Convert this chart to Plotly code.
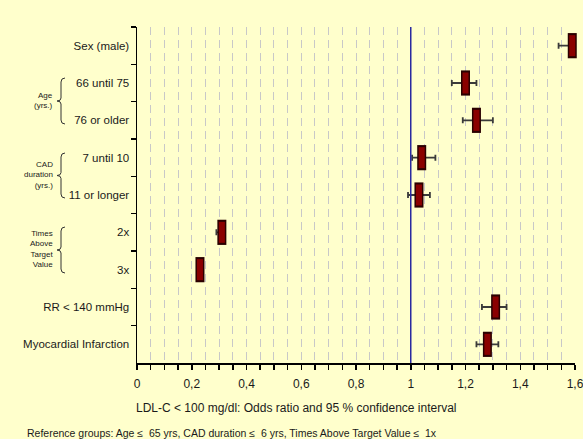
import plotly.graph_objects as go

categories = ["Sex (male)", "66 until 75", "76 or older", "7 until 10", "11 or longer",
              "2x", "3x", "RR < 140 mmHg", "Myocardial Infarction"]
odds_ratio = [1.59, 1.20, 1.24, 1.04, 1.03, 0.31, 0.23, 1.31, 1.28]
ci_low = [1.54, 1.15, 1.19, 1.005, 0.99, 0.29, 0.22, 1.26, 1.24]
ci_high = [1.61, 1.24, 1.30, 1.09, 1.07, 0.32, 0.24, 1.35, 1.32]

x_tickvals = [0, 0.2, 0.4, 0.6, 0.8, 1.0, 1.2, 1.4, 1.6]
x_ticktext = ["0", "0,2", "0,4", "0,6", "0,8", "1", "1,2", "1,4", "1,6"]

groups = [
    {"label": "Age<br>(yrs.)", "top": 78, "bottom": 124},
    {"label": "CAD<br>duration<br>(yrs.)", "top": 153, "bottom": 198},
    {"label": "Times<br>Above<br>Target<br>Value", "top": 227, "bottom": 273},
]

W, H = 583, 439
ML, MR, MT, MB = 137, 8, 27, 76
PW, PH = W - ML - MR, H - MT - MB

def px(x):
    return (x - ML) / PW

def py(y):
    return (H - MB - y) / PH

FONT = "Liberation Sans"
TXT = "#1a1a1a"

fig = go.Figure()

err_plus = [h - v for h, v in zip(ci_high, odds_ratio)]
err_minus = [v - l for v, l in zip(odds_ratio, ci_low)]

fig.add_trace(go.Scatter(
    x=odds_ratio, y=categories, mode="markers",
    marker=dict(symbol="line-ns", size=18, line=dict(width=9, color="#2a0000")),
    error_x=dict(type="data", symmetric=False, array=err_plus, arrayminus=err_minus,
                 color="#3a3a3a", thickness=1.8, width=3),
    cliponaxis=False, hoverinfo="skip", showlegend=False,
))
fig.add_trace(go.Scatter(
    x=odds_ratio, y=categories, mode="markers",
    marker=dict(symbol="line-ns", size=15, line=dict(width=6, color="#8a0000")),
    cliponaxis=False, hoverinfo="skip", showlegend=False,
))

shapes = [dict(type="line", xref="x", yref="paper", x0=1, x1=1, y0=0, y1=1,
               line=dict(color="#2a2aa0", width=1.5))]
annotations = []
for g in groups:
    t, b = g["top"], g["bottom"]
    m = (t + b) / 2
    xr, xc, xl = 65, 61, 57
    pts = (f"M {px(xr)},{py(t)} Q {px(xc)},{py(t)} {px(xc)},{py(t+4)} "
           f"L {px(xc)},{py(m-3)} Q {px(xc)},{py(m)} {px(xl)},{py(m)} "
           f"Q {px(xc)},{py(m)} {px(xc)},{py(m+3)} "
           f"L {px(xc)},{py(b-4)} Q {px(xc)},{py(b)} {px(xr)},{py(b)}")
    shapes.append(dict(type="path", xref="paper", yref="paper", path=pts,
                       line=dict(color="#333333", width=1)))
    annotations.append(dict(x=px(55), y=py(m - 1), xref="paper", yref="paper",
                            text=g["label"], showarrow=False, align="right",
                            xanchor="right", yanchor="middle",
                            font=dict(family=FONT, size=8, color=TXT)))

annotations.append(dict(x=px(134), y=py(408), xref="paper", yref="paper",
                        text="LDL-C < 100 mg/dl: Odds ratio and 95 % confidence interval",
                        showarrow=False, xanchor="left", yanchor="middle",
                        font=dict(family=FONT, size=12, color=TXT)))
annotations.append(dict(x=px(25), y=py(433), xref="paper", yref="paper",
                        text="Reference groups: Age \u2264  65 yrs, CAD duration \u2264  6 yrs, Times Above Target Value \u2264  1x",
                        showarrow=False, xanchor="left", yanchor="middle",
                        font=dict(family=FONT, size=10.5, color=TXT)))

fig.update_layout(
    width=W, height=H,
    margin=dict(l=ML, r=MR, t=MT, b=MB, autoexpand=False),
    paper_bgcolor="#FFFFCC", plot_bgcolor="#FFFFCC",
    font=dict(family=FONT, size=11.5, color=TXT),
    shapes=shapes, annotations=annotations,
    xaxis=dict(range=[0, 1.6], tickvals=x_tickvals, ticktext=x_ticktext,
               showline=True, linecolor="#000000", linewidth=1.5,
               ticks="outside", ticklen=5, tickcolor="#000000", tickwidth=1.5,
               showgrid=True, gridcolor="#c8c8c8", gridwidth=1, griddash="8px,5px",
               minor=dict(dtick=0.05, tick0=0, ticks="outside", ticklen=5,
                          tickcolor="#000000", tickwidth=1.5,
                          showgrid=True, gridcolor="#c8c8c8", gridwidth=1,
                          griddash="8px,5px"),
               zeroline=False, fixedrange=True, automargin=False,
               ticklabelstandoff=4, ticklabeloverflow="allow",
               tickfont=dict(family=FONT, size=12, color=TXT)),
    yaxis=dict(type="category", categoryorder="array", categoryarray=categories,
               range=[len(categories) - 0.5, -0.5],
               showline=True, linecolor="#000000", linewidth=1.5,
               ticks="outside", tickson="boundaries", ticklen=5,
               tickcolor="#000000", tickwidth=1.5,
               showgrid=False, zeroline=False, automargin=False,
               ticklabelstandoff=4,
               tickfont=dict(family=FONT, size=11.5, color=TXT)),
)

fig.write_html("out.html",
               config={"displayModeBar": False, "staticPlot": True},
               post_script="document.body.style.margin='0';"
                           "document.documentElement.style.overflow='hidden';"
                           "document.body.style.overflow='hidden';")
